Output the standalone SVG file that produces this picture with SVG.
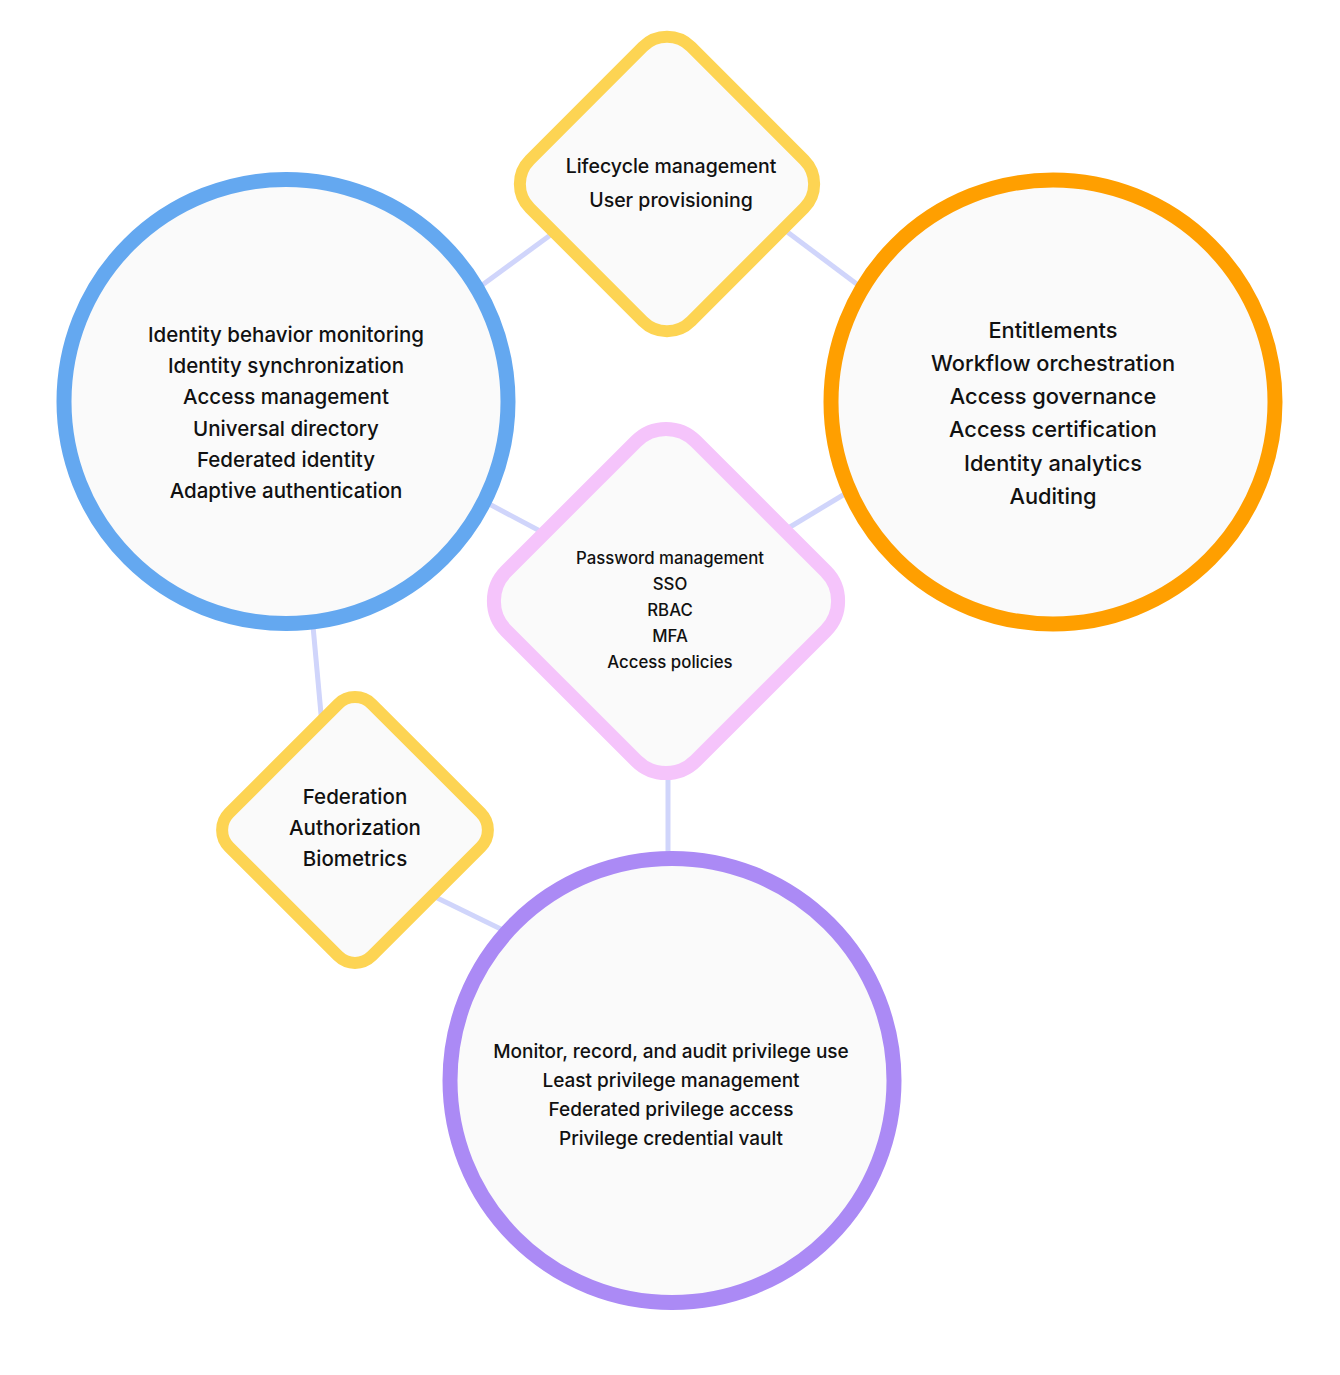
<svg xmlns="http://www.w3.org/2000/svg" width="1340" height="1375" viewBox="0 0 1340 1375">
<style>
.bg{fill:#ffffff}
.edge{stroke:#d0d5fb;stroke-width:5;fill:none;stroke-linecap:butt}
.node{fill:#fafafa}
.blue{stroke:#64a8f0;stroke-width:15}
.orange{stroke:#ff9f00;stroke-width:15}
.purple{stroke:#ab8af5;stroke-width:15}
.yellow{stroke:#fdd453;stroke-width:12}
.pink{stroke:#f5c4fb;stroke-width:14}
text{font-family:Inter,"Noto Sans","Liberation Sans",sans-serif;font-weight:500;fill:#111111;text-anchor:middle}
.tl{font-size:20.5px}
.tr{font-size:21.8px}
.tt{font-size:19.5px}
.tp{font-size:16.8px}
.ts{font-size:20.5px}
.tb{font-size:19px}
</style>
<rect class="bg" x="0" y="0" width="1340" height="1375"/>
<g id="connectors">
<line class="edge" x1="470" y1="294" x2="560" y2="228"/>
<line class="edge" x1="778" y1="225" x2="870" y2="294"/>
<line class="edge" x1="476" y1="497" x2="555" y2="539"/>
<line class="edge" x1="780" y1="533" x2="858" y2="486"/>
<line class="edge" x1="312" y1="615" x2="322" y2="725"/>
<line class="edge" x1="425" y1="892" x2="515" y2="936"/>
<line class="edge" x1="668" y1="770" x2="668" y2="860"/>
</g>
<g id="node-identity">
<circle class="node blue" cx="286" cy="401.5" r="222"/>
<text class="tl" x="286" y="341.5">Identity behavior monitoring</text>
<text class="tl" x="286" y="373">Identity synchronization</text>
<text class="tl" x="286" y="404">Access management</text>
<text class="tl" x="286" y="436">Universal directory</text>
<text class="tl" x="286" y="467">Federated identity</text>
<text class="tl" x="286" y="498">Adaptive authentication</text>
</g>
<g id="node-governance">
<circle class="node orange" cx="1053" cy="402" r="222"/>
<text class="tr" x="1053" y="337.5">Entitlements</text>
<text class="tr" x="1053" y="370.5">Workflow orchestration</text>
<text class="tr" x="1053" y="403.5">Access governance</text>
<text class="tr" x="1053" y="436.5">Access certification</text>
<text class="tr" x="1053" y="470.5">Identity analytics</text>
<text class="tr" x="1053" y="503.5">Auditing</text>
</g>
<g id="node-privilege">
<circle class="node purple" cx="672" cy="1080.5" r="222"/>
<text class="tb" x="671" y="1057.5">Monitor, record, and audit privilege use</text>
<text class="tb" x="671" y="1086.5">Least privilege management</text>
<text class="tb" x="671" y="1115.5">Federated privilege access</text>
<text class="tb" x="671" y="1144.5">Privilege credential vault</text>
</g>
<g id="node-lifecycle">
<rect class="node yellow" x="-114" y="-114" width="228" height="228" rx="34" ry="34" transform="translate(667 184) rotate(45)"/>
<text class="tt" x="671" y="173">Lifecycle management</text>
<text class="tt" x="671" y="207">User provisioning</text>
</g>
<g id="node-access">
<rect class="node pink" x="-134" y="-134" width="268" height="268" rx="42" ry="42" transform="translate(666 601) rotate(45)"/>
<text class="tp" x="670" y="564">Password management</text>
<text class="tp" x="670" y="590">SSO</text>
<text class="tp" x="670" y="616">RBAC</text>
<text class="tp" x="670" y="642">MFA</text>
<text class="tp" x="670" y="668">Access policies</text>
</g>
<g id="node-federation">
<rect class="node yellow" x="-101" y="-101" width="202" height="202" rx="24" ry="24" transform="translate(355 830) rotate(45)"/>
<text class="ts" x="355" y="804">Federation</text>
<text class="ts" x="355" y="835">Authorization</text>
<text class="ts" x="355" y="866">Biometrics</text>
</g>
</svg>
